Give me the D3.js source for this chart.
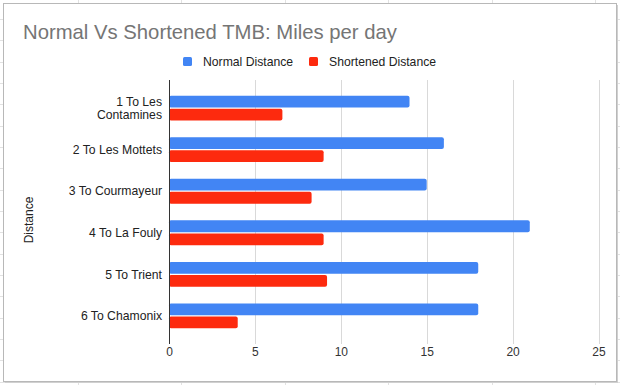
<!DOCTYPE html>
<html>
<head>
<meta charset="utf-8">
<script src="https://cdn.jsdelivr.net/npm/d3@7"></script>
<style>
body { margin: 0; background: #fff; }
svg { display: block; font-family: "Liberation Sans", Arial, sans-serif; }
</style>
</head>
<body>
<svg id="chart"></svg>
<script>
// data
const stages = ["1 To Les Contamines", "2 To Les Mottets", "3 To Courmayeur", "4 To La Fouly", "5 To Trient", "6 To Chamonix"];
const stageLines = [["1 To Les", "Contamines"], ["2 To Les Mottets"], ["3 To Courmayeur"], ["4 To La Fouly"], ["5 To Trient"], ["6 To Chamonix"]];
const seriesNames = ["Normal Distance", "Shortened Distance"];
const normalDist = [14, 16, 15, 21, 18, 18];
const shortDist = [6.6, 9, 8.3, 9, 9.2, 4];
const xTicks = [0, 5, 10, 15, 20, 25];
const colors = ["#4285f4", "#fd2a0e"];

const width = 620;
const height = 385;
const svg = d3.select('#chart')
  .attr('width', width)
  .attr('height', height);

// spreadsheet cells behind the chart
const bg = svg.append('g').attr('stroke', '#e2e2e2').attr('stroke-width', 1);
for (let y = 19; y < height; y += 21.33) {
  bg.append('line').attr('x1', 0).attr('x2', width).attr('y1', Math.round(y) + 0.5).attr('y2', Math.round(y) + 0.5);
}
for (let x = 78; x < width; x += 103.4) {
  bg.append('line').attr('y1', 0).attr('y2', height).attr('x1', Math.round(x) + 0.5).attr('x2', Math.round(x) + 0.5);
}

// chart card
svg.append('rect').attr('x', 5).attr('y', 5).attr('width', 613).attr('height', 378).attr('fill', '#d0d0d0');
svg.append('rect').attr('x', 3.5).attr('y', 3.5).attr('width', 613).attr('height', 378)
  .attr('fill', '#fff').attr('stroke', '#b8b8b8');

// title
svg.append('text')
  .attr('x', 23).attr('y', 39)
  .attr('font-size', 20.3)
  .attr('fill', '#757575')
  .text('Normal Vs Shortened TMB: Miles per day');

// legend
const legendX = [183, 309];
seriesNames.forEach((name, i) => {
  const g = svg.append('g').attr('transform', `translate(${legendX[i]},57)`);
  g.append('rect').attr('width', 9).attr('height', 9).attr('rx', 1.5).attr('fill', colors[i]);
  g.append('text').attr('x', 20).attr('y', 4.5).attr('dy', '0.35em')
    .attr('font-size', 12.2).attr('fill', '#222').text(name);
});

// scales
const plotTop = 80, plotBottom = 344;
const x = d3.scaleLinear().domain([0, 25]).range([169, 598.5]);
const y0 = d3.scaleBand().domain(stages).range([plotTop, plotBottom]).paddingInner(0).paddingOuter(0.176);
const y1 = d3.scaleBand().domain(seriesNames).range([0, y0.bandwidth()]).paddingInner(0.1).paddingOuter(0.64);

// gridlines
svg.append('g')
  .selectAll('line')
  .data(xTicks.filter(d => d > 0))
  .join('line')
  .attr('x1', d => Math.round(x(d)) + 0.5).attr('x2', d => Math.round(x(d)) + 0.5)
  .attr('y1', plotTop).attr('y2', plotBottom)
  .attr('stroke', '#d9d9d9');

// bars
const rows = stages.map((s, i) => ({ stage: s, values: [normalDist[i], shortDist[i]] }));
const groups = svg.append('g')
  .selectAll('g')
  .data(rows)
  .join('g')
  .attr('transform', d => `translate(0,${y0(d.stage)})`);

groups.selectAll('rect')
  .data(d => d.values.map((v, j) => ({ name: seriesNames[j], value: v, j })))
  .join('rect')
  .attr('x', x(0))
  .attr('y', d => y1(d.name))
  .attr('width', d => x(d.value) - x(0))
  .attr('height', y1.bandwidth())
  .attr('rx', 2)
  .attr('fill', d => colors[d.j]);

// zero axis
svg.append('line')
  .attr('x1', x(0) + 0.5).attr('x2', x(0) + 0.5)
  .attr('y1', plotTop).attr('y2', plotBottom)
  .attr('stroke', '#333');

// x tick labels
const xAxis = d3.axisBottom(x).tickValues(xTicks).tickSize(0).tickPadding(0);
const xg = svg.append('g').attr('transform', 'translate(0,350)').call(xAxis);
xg.select('.domain').remove();
xg.selectAll('text')
  .attr('font-size', 12).attr('fill', '#333')
  .attr('font-family', '"Liberation Sans", Arial, sans-serif')
  .attr('dy', '0.5em');

// y category labels
const yl = svg.append('g')
  .selectAll('text')
  .data(stages)
  .join('text')
  .attr('x', 162)
  .attr('text-anchor', 'end')
  .attr('font-size', 12.2)
  .attr('fill', '#222');
yl.each(function(d, i) {
  const lines = stageLines[i];
  const cy = y0(d) + y0.bandwidth() / 2;
  d3.select(this).selectAll('tspan')
    .data(lines)
    .join('tspan')
    .attr('x', 162)
    .attr('y', (l, k) => cy + (k - (lines.length - 1) / 2) * 13)
    .attr('dy', '0.35em')
    .text(l => l);
});

// y axis title
svg.append('text')
  .attr('transform', 'translate(29,220) rotate(-90)')
  .attr('text-anchor', 'middle')
  .attr('dy', '0.35em')
  .attr('font-size', 12)
  .attr('fill', '#222')
  .text('Distance');
</script>
</body>
</html>
